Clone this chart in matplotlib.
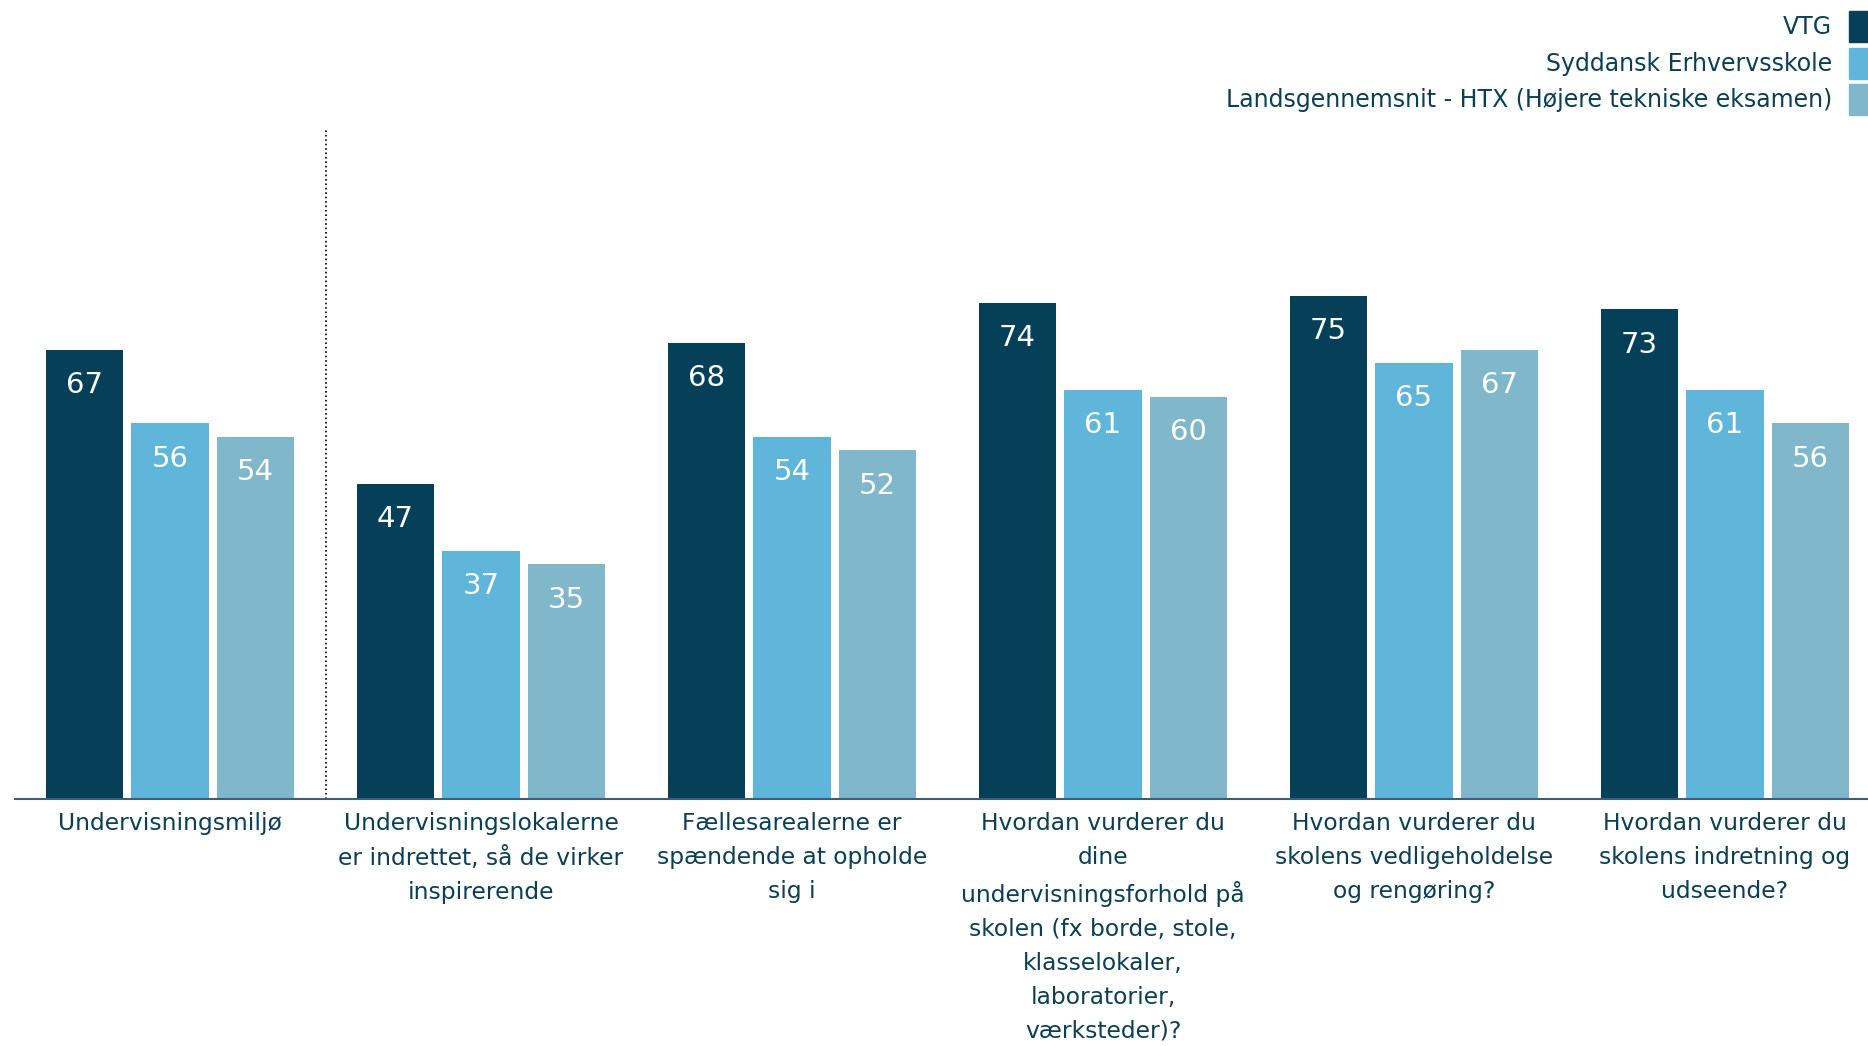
import numpy as np
import matplotlib.pyplot as plt

categories = [
    'Undervisningsmiljø',
    'Undervisningslokalerne\ner indrettet, så de virker\ninspirerende',
    'Fællesarealerne er\nspændende at opholde\nsig i',
    'Hvordan vurderer du\ndine\nundervisningsforhold på\nskolen (fx borde, stole,\nklasselokaler,\nlaboratorier,\nværksteder)?',
    'Hvordan vurderer du\nskolens vedligeholdelse\nog rengøring?',
    'Hvordan vurderer du\nskolens indretning og\nudseende?',
]
series_names = ['VTG', 'Syddansk Erhvervsskole',
                'Landsgennemsnit - HTX (Højere tekniske eksamen)']
vtg = [67, 47, 68, 74, 75, 73]
syddansk = [56, 37, 54, 61, 65, 61]
lands = [54, 35, 52, 60, 67, 56]

colors = ['#053f58', '#5fb5da', '#80b7cb']
text_color = '#0b3f55'

fig = plt.figure(figsize=(18.68, 10.46), dpi=100)
ax = fig.add_axes([0.0078, 0.2357, 0.9922, 0.642])

ind = np.arange(len(categories))
width = 0.25
step = 0.275
for i, vals in enumerate([vtg, syddansk, lands]):
    b = ax.bar(ind + (i - 1) * step, vals, width=width, color=colors[i])
    for rect, v in zip(b, vals):
        ax.annotate(str(v), (rect.get_x() + rect.get_width() / 2, rect.get_height()),
                    xytext=(0, -25.5), textcoords='offset points',
                    ha='center', va='center', color='white', fontsize=21)

ax.set_xlim(-0.5, 5.46)
ax.set_ylim(0, 100)
ax.axvline(0.5, color='black', linestyle=':', linewidth=1.2)

for s in ['top', 'right', 'left']:
    ax.spines[s].set_visible(False)
ax.spines['bottom'].set_color('#3d5d7a')
ax.spines['bottom'].set_linewidth(1.5)
ax.set_yticks([])
ax.set_xticks(ind)
ax.set_xticklabels(categories, fontsize=16.8, color=text_color, linespacing=1.6)
ax.tick_params(axis='x', length=0, pad=9)

# legend drawn manually at top right
for i, name in enumerate(series_names):
    y = 1 - (27 + i * 36.5) / 1046
    fig.text(1832 / 1868, y, name, ha='right', va='center', fontsize=17,
             color=text_color)
    fig.patches.append(plt.Rectangle((1849 / 1868, y - 15 / 1046), 19 / 1868, 31 / 1046,
                                     transform=fig.transFigure, color=colors[i]))

fig.savefig('out.png', dpi=100)
